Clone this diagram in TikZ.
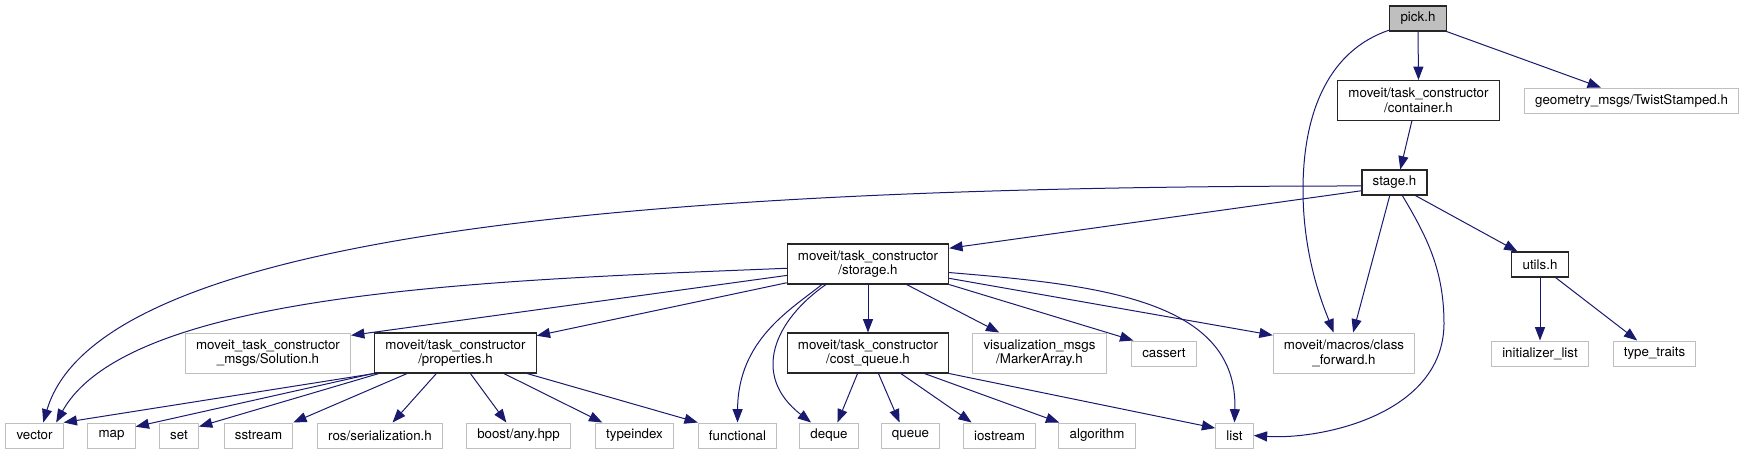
\documentclass[tikz,border=0pt]{standalone}
\usepackage{fontspec}
\setmainfont{TeX Gyre Heros}
\usetikzlibrary{arrows.meta}
\definecolor{edgeblue}{HTML}{191970}

\begin{document}
\begin{tikzpicture}[
  x=0.75pt, y=-0.75pt,
  box/.style={rectangle, align=center, font=\fontsize{10}{11}\selectfont,
              inner xsep=8pt, inner ysep=1pt, minimum height=18.75pt},
  tall/.style={minimum height=30pt},
  doc/.style={box, draw=black!85, line width=0.8pt, fill=white},
  ext/.style={box, draw=gray!50, line width=0.75pt, fill=white},
  focus/.style={doc, fill=gray!50},
  edge/.style={draw=edgeblue, line width=0.75pt,
               -{Triangle[length=10pt,width=7.5pt]}}
]
  \useasboundingbox (0,0) rectangle (1745,455);

  \node[focus] (pick) at (1418,18.5) {pick.h};
  \node[doc, tall] (container) at (1418.5,100.5) {moveit/task\_constructor\\/container.h};
  \node[ext] (twist) at (1631.5,100.5) {geometry\_msgs/TwistStamped.h};
  \node[doc] (stage) at (1394.5,182.5) {stage.h};
  \node[doc, tall] (storage) at (868,264) {moveit/task\_constructor\\/storage.h};
  \node[doc] (utils) at (1540,264.5) {utils.h};

  \node[ext, tall] (solution) at (268,353) {moveit\_task\_constructor\\\_msgs/Solution.h};
  \node[doc, tall] (properties) at (455.5,353) {moveit/task\_constructor\\/properties.h};
  \node[doc, tall] (costqueue) at (868,353) {moveit/task\_constructor\\/cost\_queue.h};
  \node[ext, tall] (marker) at (1039.5,353) {visualization\_msgs\\/MarkerArray.h};
  \node[ext] (cassert) at (1164,353.5) {cassert};
  \node[ext, tall] (classfwd) at (1344,353) {moveit/macros/class\\\_forward.h};
  \node[ext] (initlist) at (1540,353.5) {initializer\_list};
  \node[ext] (typetraits) at (1654.5,353.5) {type\_traits};

  \node[ext] (vector) at (34.5,435.5) {vector};
  \node[ext] (map) at (111.5,435.5) {map};
  \node[ext] (set) at (179,435.5) {set};
  \node[ext] (sstream) at (258.5,435.5) {sstream};
  \node[ext] (rosser) at (380,435.5) {ros/serialization.h};
  \node[ext] (boostany) at (518.5,435.5) {boost/any.hpp};
  \node[ext] (typeindex) at (634.5,435.5) {typeindex};
  \node[ext] (functional) at (737.5,435.5) {functional};
  \node[ext] (deque) at (829,435.5) {deque};
  \node[ext] (queue) at (910.5,435.5) {queue};
  \node[ext] (iostream) at (999.5,435.5) {iostream};
  \node[ext] (algorithm) at (1097,435.5) {algorithm};
  \node[ext] (list) at (1234.5,435.5) {list};

  \draw[edge] (pick.south) -- (container.north);
  \draw[edge] (pick.south east) -- (twist.157);
  \draw[edge] (pick.202) .. controls (1330,50) and (1303,110) .. (1303,190)
              .. controls (1303,260) and (1325,310) .. (classfwd.117);
  \draw[edge] (container.252) -- (stage.66);

  \draw[edge] (stage.186) .. controls (661,186) and (100,230) .. (vector.56);
  \draw[edge] (stage.194) -- (storage.11);
  \draw[edge] (stage.250) -- (classfwd.66);
  \draw[edge] (stage.301) .. controls (1427,237) and (1444,270) .. (1444,324)
              .. controls (1443,415) and (1320,440) .. (list.east);
  \draw[edge] (stage.-32) -- (utils.150);

  \draw[edge] (storage.183) .. controls (500,280) and (130,290) .. (vector.31);
  \draw[edge] (storage.188) -- (solution.12);
  \draw[edge] (storage.193) -- (properties.12);
  \draw[edge] (storage.204) .. controls (790,310) and (738,340) .. (functional.north);
  \draw[edge] (storage.206) .. controls (775,320) and (750,375) .. (deque.144);
  \draw[edge] (storage.south) -- (costqueue.north);
  \draw[edge] (storage.-28) -- (marker.153);
  \draw[edge] (storage.south east) -- (cassert.157);
  \draw[edge] (storage.-10) -- (classfwd.166);
  \draw[edge] (storage.-6) .. controls (1100,285) and (1238,300) .. (list.north);

  \draw[edge] (properties.south west) -- (vector.north east);
  \draw[edge] (properties.194) -- (map.20);
  \draw[edge] (properties.195) -- (set.24);
  \draw[edge] (properties.203) -- (sstream.north east);
  \draw[edge] (properties.227) -- (rosser.46);
  \draw[edge] (properties.306) -- (boostany.133);
  \draw[edge] (properties.337) -- (typeindex.158);
  \draw[edge] (properties.344) -- (functional.north west);

  \draw[edge] (costqueue.243) -- (deque.57);
  \draw[edge] (costqueue.297) -- (queue.130);
  \draw[edge] (costqueue.328) -- (iostream.155);
  \draw[edge] (costqueue.340) -- (algorithm.161);
  \draw[edge] (costqueue.south east) -- (list.159);

  \draw[edge] (utils.south) -- (initlist.north);
  \draw[edge] (utils.320) -- (typetraits.143);
\end{tikzpicture}
\end{document}
